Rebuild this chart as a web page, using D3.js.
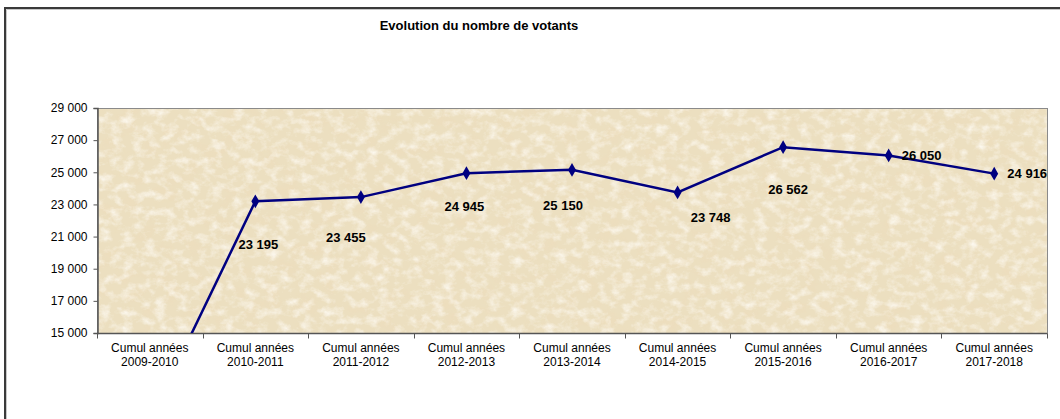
<!DOCTYPE html>
<meta charset="utf-8">
<title>Evolution du nombre de votants</title>
<style>
body {
  margin: 0px;
  background: #fff;
}
svg text {
  font-family: "Liberation Sans", Arial, sans-serif;
  fill: #000;
}
.axis path, .axis line {
  stroke: #555;
}
</style>
<script src="https://d3js.org/d3.v7.min.js"></script>
<body>
<script>
var width = 1060, height = 419;

// data
var categories = ["2009-2010", "2010-2011", "2011-2012", "2012-2013", "2013-2014",
                  "2014-2015", "2015-2016", "2016-2017", "2017-2018"];
var votants = [9573, 23195, 23455, 24945, 25150, 23748, 26562, 26050, 24916];
var yTicks = [15000, 17000, 19000, 21000, 23000, 25000, 27000, 29000];
// where each value label sits relative to its point (dx, dy)
var labelShift = [[0, 0], [3, 43], [-15, 40], [-2, 33], [-9, 36], [33, 25], [5, 42], [33, 0], [33, 0]];

var margin = {left: 97, right: 13, top: 108, bottom: 86};

var svg = d3.select("body").append("svg")
    .attr("width", width)
    .attr("height", height);

var x = d3.scaleBand()
    .domain(categories)
    .range([margin.left, width - margin.right]);
var y = d3.scaleLinear()
    .domain([15000, 29000])
    .range([height - margin.bottom, margin.top]);

var fmt = function(d) { return d3.format(",")(d).replace(/,/g, " "); };

// outer chart border (cut off at right and bottom)
svg.append("path")
    .attr("d", "M5," + height + "V8H" + width)
    .attr("fill", "none")
    .attr("stroke", "#3a3a3a")
    .attr("stroke-width", 2);
svg.append("path")
    .attr("d", "M6.5," + height + "V9.5H" + width)
    .attr("fill", "none")
    .attr("stroke", "#c8c8c8")
    .attr("stroke-width", 1);

// parchment background
var defs = svg.append("defs");
function paper(id, freq, seed, matrix) {
  var f = defs.append("filter").attr("id", id)
      .attr("x", 0).attr("y", 0).attr("width", 1).attr("height", 1);
  f.append("feTurbulence")
      .attr("type", "fractalNoise")
      .attr("baseFrequency", freq)
      .attr("numOctaves", 4)
      .attr("seed", seed);
  f.append("feColorMatrix").attr("type", "matrix").attr("values", matrix);
  f.append("feComposite").attr("in2", "SourceGraphic").attr("operator", "in");
}
// light speckles and darker sandy patches
paper("light", "0.09 0.12", 3, "0 0 0 0 1  0 0 0 0 0.98  0 0 0 0 0.93  0 0 0 -1.6 0.9");
paper("dark", "0.05 0.07", 11, "0 0 0 0 0.85  0 0 0 0 0.72  0 0 0 0 0.5  0 0 0 1.4 -0.6");

defs.append("clipPath").attr("id", "plotclip")
  .append("rect")
    .attr("x", x.range()[0]).attr("y", y(29000))
    .attr("width", x.range()[1] - x.range()[0])
    .attr("height", y(15000) - y(29000));

var pw = x.range()[1] - x.range()[0], ph = y(15000) - y(29000);
svg.append("rect")
    .attr("x", x.range()[0]).attr("y", y(29000))
    .attr("width", pw).attr("height", ph)
    .attr("fill", "#ecdfc0");
["dark", "light"].forEach(function(id) {
  svg.append("rect")
      .attr("x", x.range()[0]).attr("y", y(29000))
      .attr("width", pw).attr("height", ph)
      .attr("fill", "#fff")
      .attr("filter", "url(#" + id + ")");
});
svg.append("rect")
    .attr("x", x.range()[0] + 0.5).attr("y", y(29000) + 0.5)
    .attr("width", pw).attr("height", ph)
    .attr("fill", "none")
    .attr("stroke", "#8a8a8a");

// title
svg.append("text")
    .attr("x", 479)
    .attr("y", 30)
    .attr("text-anchor", "middle")
    .style("font-size", "13px")
    .style("font-weight", "bold")
    .text("Evolution du nombre de votants");

// y axis
var yAxis = svg.append("g")
    .attr("class", "axis")
    .attr("transform", "translate(" + (margin.left + 0.5) + ",0)")
    .call(d3.axisLeft(y).tickValues(yTicks).tickFormat(fmt).tickSize(4).tickPadding(6));
yAxis.attr("font-size", null).attr("font-family", null);
yAxis.selectAll("text").style("font-size", "12px").attr("fill", "#000");
yAxis.select(".domain").attr("stroke-width", 1.5);

// x axis
var xAxis = svg.append("g")
    .attr("class", "axis")
    .attr("transform", "translate(0," + (y(15000) + 0.5) + ")");
xAxis.append("line")
    .attr("x1", x.range()[0]).attr("x2", x.range()[1])
    .attr("stroke-width", 1.5);
xAxis.selectAll("line.tk")
    .data(d3.range(categories.length + 1))
  .enter().append("line")
    .attr("class", "tk")
    .attr("x1", function(i) { return Math.round(x.range()[0] + i * x.step()) + 0.5; })
    .attr("x2", function(i) { return Math.round(x.range()[0] + i * x.step()) + 0.5; })
    .attr("y1", 0).attr("y2", 5);
var xl = xAxis.selectAll("text.cat")
    .data(categories)
  .enter().append("text")
    .attr("class", "cat")
    .attr("text-anchor", "middle")
    .attr("x", function(d) { return x(d) + x.bandwidth() / 2; })
    .style("font-size", "12px");
xl.append("tspan")
    .attr("x", function(d) { return x(d) + x.bandwidth() / 2; })
    .attr("y", 18)
    .text("Cumul années");
xl.append("tspan")
    .attr("x", function(d) { return x(d) + x.bandwidth() / 2; })
    .attr("y", 32)
    .text(function(d) { return d; });

// line + markers
var cx = function(d, i) { return x(categories[i]) + x.bandwidth() / 2; };
var line = d3.line()
    .x(cx)
    .y(function(d) { return y(d); });

var plot = svg.append("g").attr("clip-path", "url(#plotclip)");
plot.append("path")
    .datum(votants)
    .attr("d", line)
    .attr("fill", "none")
    .attr("stroke", "#000080")
    .attr("stroke-width", 2.5);
plot.selectAll("path.marker")
    .data(votants)
  .enter().append("path")
    .attr("class", "marker")
    .attr("d", d3.symbol().type(d3.symbolDiamond).size(55))
    .attr("transform", function(d, i) { return "translate(" + cx(d, i) + "," + y(d) + ")"; })
    .attr("fill", "#000080");

// value labels (the first point is off the scale, so its label is not shown)
var labels = votants.map(function(v, i) { return {v: v, i: i}; })
    .filter(function(d) { return d.v >= y.domain()[0]; });
svg.append("g")
  .selectAll("text.val")
    .data(labels)
  .enter().append("text")
    .attr("class", "val")
    .attr("text-anchor", "middle")
    .attr("dy", "0.35em")
    .attr("x", function(d) { return cx(d.v, d.i) + labelShift[d.i][0]; })
    .attr("y", function(d) { return y(d.v) + labelShift[d.i][1]; })
    .style("font-size", "13px")
    .style("font-weight", "bold")
    .text(function(d) { return fmt(d.v); });
</script>
